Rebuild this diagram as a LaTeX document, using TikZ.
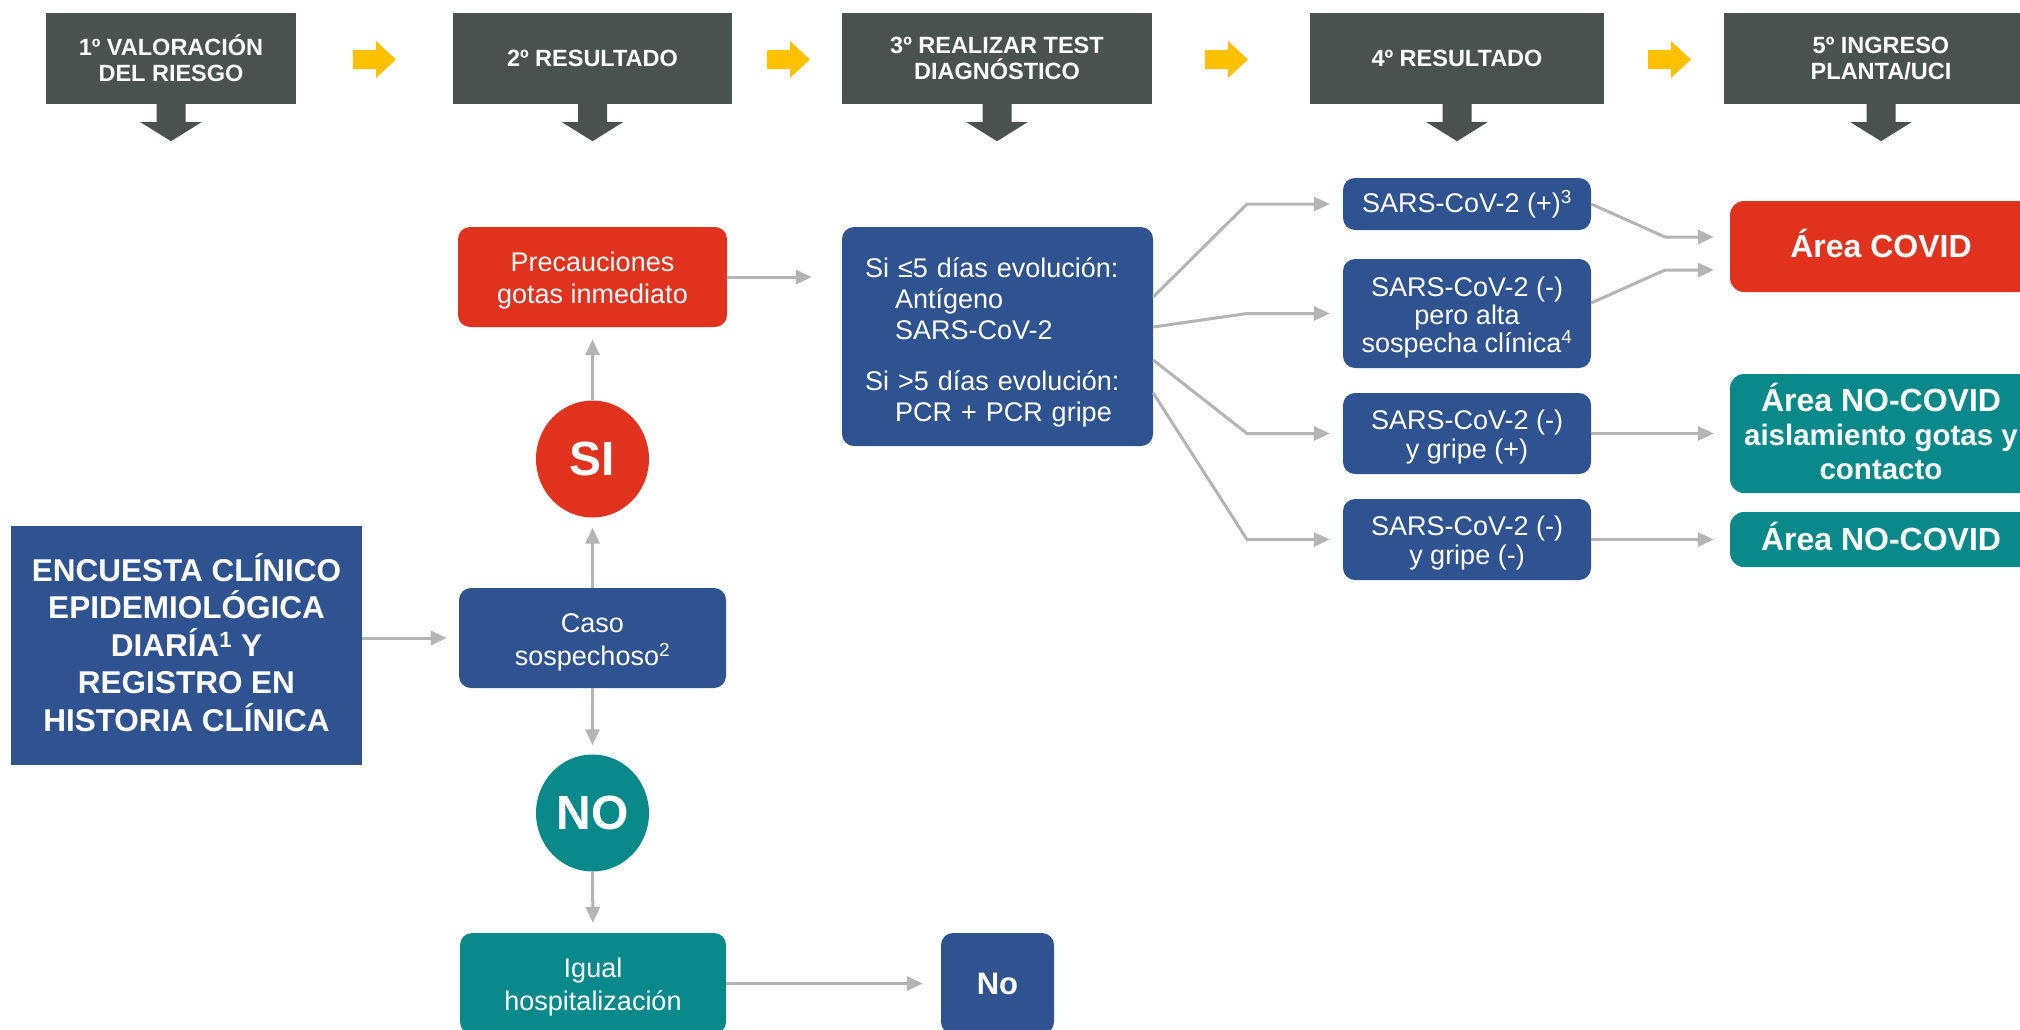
\documentclass[tikz,border=0pt]{standalone}
\usepackage{fontspec}
\setmainfont{Liberation Sans}
\usetikzlibrary{arrows.meta,shapes.geometric}
\definecolor{headgray}{RGB}{74,82,80}
\definecolor{yel}{RGB}{255,192,0}
\definecolor{dblue}{RGB}{47,83,145}
\definecolor{cred}{RGB}{225,50,30}
\definecolor{tealc}{RGB}{10,137,139}
\definecolor{lgray}{RGB}{180,180,180}
\newcommand{\tstrut}[1]{\rule{0pt}{#1}}
\newcommand{\bstrut}[1]{\rule[-#1]{0pt}{#1}}
\begin{document}
\begin{tikzpicture}[x=1pt,y=-1pt,
  head/.style={fill=headgray, text=white, font=\bfseries\fontsize{23.5}{26}\selectfont,
    align=center, minimum height=91pt, inner sep=0pt},
  rbox/.style={rounded corners=12pt, text=white, font=\fontsize{27}{32.5}\selectfont,
    align=center, inner sep=0pt},
  sbox/.style={rbox, fill=dblue, minimum width=248pt, font=\fontsize{27}{29}\selectfont},
  area/.style={rounded corners=14pt, text=white, font=\bfseries\fontsize{32}{34}\selectfont,
    align=center, inner sep=0pt, minimum width=302pt},
  circ/.style={ellipse, text=white, font=\bfseries\fontsize{48}{50}\selectfont,
    minimum width=113pt, minimum height=117pt, inner sep=0pt},
  conn/.style={draw=lgray, line width=3pt, -{Triangle[length=16pt,width=14pt]}},
]
\clip (0,0) rectangle (2020,1029);
\fill[white] (0,0) rectangle (2020,1029);

% header boxes
\node[head, minimum width=250pt] (h1) at (171,58.5) {1º VALORACIÓN\\DEL RIESGO};
\node[head, minimum width=279pt] (h2) at (592.5,58.5) {2º RESULTADO};
\node[head, minimum width=310pt] (h3) at (997,58.5) {3º REALIZAR TEST\\DIAGNÓSTICO};
\node[head, minimum width=294pt] (h4) at (1457,58.5) {4º RESULTADO};
\node[head, minimum width=314pt] (h5) at (1881,58.5) {5º INGRESO\\PLANTA/UCI};

\foreach \n in {h1,h2,h3,h4,h5}
  \fill[headgray] (\n.south) ++(-14.5,0) -- ++(29,0) -- ++(0,18) -- ++(16,0)
     -- ++(-30.5,19) -- ++(-30.5,-19) -- ++(16,0) -- cycle;

\foreach \x in {353,767,1205,1648}
  \fill[yel] (\x,50) -- ++(23,0) -- ++(0,-9) -- ++(20,18.5) -- ++(-20,18.5)
     -- ++(0,-9) -- ++(-23,0) -- cycle;

% left column
\node[fill=dblue, text=white, font=\bfseries\fontsize{31.5}{37.5}\selectfont, align=center,
  minimum width=351pt, minimum height=239pt, inner sep=0pt] (enc) at (186.5,645.5)
  {ENCUESTA CLÍNICO\\EPIDEMIOLÓGICA\\DIARÍA\textsuperscript{1} Y\\REGISTRO EN\\HISTORIA CLÍNICA\bstrut{6pt}};

\node[rbox, fill=dblue, minimum width=267pt, minimum height=100pt] (caso) at (592.5,638)
  {\tstrut{28pt}Caso\\sospechoso\textsuperscript{2}};
\node[rbox, fill=cred, minimum width=269pt, minimum height=100pt] (prec) at (592.5,277)
  {\tstrut{27pt}Precauciones\\gotas inmediato};
\node[circ, fill=cred] (si) at (592.5,459) {SI};
\node[circ, fill=tealc] (no) at (592.5,813) {NO};
\node[rbox, fill=tealc, minimum width=266pt, minimum height=101pt] (igual) at (593,983.5)
  {\tstrut{27pt}Igual\\hospitalización};
\node[rbox, fill=dblue, minimum width=113pt, minimum height=101pt,
  font=\bfseries\fontsize{31}{34}\selectfont] (nobox) at (997.5,983.5) {No};

% test box
\node[rbox, fill=dblue, minimum width=311pt, minimum height=219pt, text width=265pt,
  align=left, font=\fontsize{27}{31}\selectfont] (test) at (997.5,336.5)
  {\tstrut{32pt}Si ≤5 días evolución:\\\hspace*{30pt}Antígeno\\\hspace*{30pt}SARS-CoV-2\\[20pt]
   Si >5 días evolución:\\\hspace*{30pt}PCR + PCR gripe};

% results
\node[sbox, minimum height=52pt] (r1) at (1467,204)
  {SARS-CoV-2 (+)\textsuperscript{3}};
\node[sbox, minimum height=109pt, font=\fontsize{27}{28}\selectfont] (r2) at (1467,313.5)
  {\tstrut{27pt}SARS-CoV-2 (-)\\pero alta\\sospecha clínica\textsuperscript{4}};
\node[sbox, minimum height=81pt] (r3) at (1467,433.5)
  {\tstrut{27pt}SARS-CoV-2 (-)\\y gripe (+)};
\node[sbox, minimum height=81pt] (r4) at (1467,539.5)
  {\tstrut{27pt}SARS-CoV-2 (-)\\y gripe (-)};

% areas
\node[area, fill=cred, minimum height=91pt] (covid) at (1881,246.5) {Área COVID\bstrut{6pt}};
\node[area, fill=tealc, minimum height=119pt] (aisl) at (1881,433.5)
  {Área NO-COVID\\{\fontsize{29.5}{32}\selectfont aislamiento gotas y}\\{\fontsize{29.5}{32}\selectfont contacto\bstrut{5pt}}};
\node[area, fill=tealc, minimum height=55pt] (nocov) at (1881,539.5) {Área NO-COVID\bstrut{6pt}};

% connectors
\draw[conn, shorten >=12pt] (enc.east |- caso.west) -- (caso.west);
\draw[conn, shorten >=10pt] (caso.north) -- (si.south);
\draw[conn, shorten >=12pt] (si.north) -- (prec.south);
\draw[conn, shorten >=9pt] (caso.south) -- (no.north);
\draw[conn, shorten >=10pt] (no.south) -- (igual.north);
\draw[conn, shorten >=30pt] (prec.east) -- (prec.east -| test.west);
\draw[conn, shorten >=18pt] (igual.east) -- (nobox.west);

\coordinate (bx) at (1247,0);
\draw[conn, shorten >=13pt] ([yshift=39.5pt]test.east) -- (bx |- r1.west) -- (r1.west);
\draw[conn, shorten >=13pt] ([yshift=9.5pt]test.east) -- (bx |- r2.west) -- (r2.west);
\draw[conn, shorten >=13pt] ([yshift=-23.5pt]test.east) -- (bx |- r3.west) -- (r3.west);
\draw[conn, shorten >=13pt] ([yshift=-56.5pt]test.east) -- (bx |- r4.west) -- (r4.west);

\coordinate (bx2) at (1665,0);
\coordinate (c1) at ([yshift=9.5pt]covid.west);
\coordinate (c2) at ([yshift=-23.5pt]covid.west);
\draw[conn, shorten >=16pt] (r1.east) -- (bx2 |- c1) -- (c1);
\draw[conn, shorten >=16pt] ([yshift=10.5pt]r2.east) -- (bx2 |- c2) -- (c2);
\draw[conn, shorten >=16pt] (r3.east) -- (aisl.west);
\draw[conn, shorten >=16pt] (r4.east) -- (nocov.west);
\end{tikzpicture}
\end{document}
